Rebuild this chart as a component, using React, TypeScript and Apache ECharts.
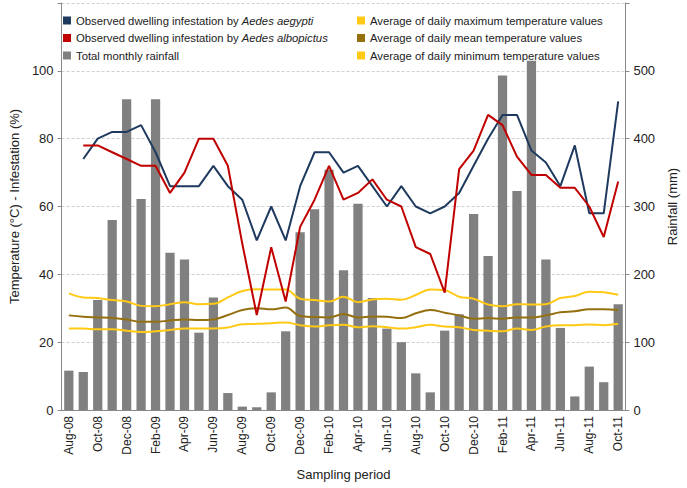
import React, { useEffect, useRef } from "react";
import * as echarts from "echarts";

const months = [
  "Aug-08", "Sep-08", "Oct-08", "Nov-08", "Dec-08",
  "Jan-09", "Feb-09", "Mar-09", "Apr-09", "May-09", "Jun-09", "Jul-09", "Aug-09", "Sep-09", "Oct-09", "Nov-09", "Dec-09",
  "Jan-10", "Feb-10", "Mar-10", "Apr-10", "May-10", "Jun-10", "Jul-10", "Aug-10", "Sep-10", "Oct-10", "Nov-10", "Dec-10",
  "Jan-11", "Feb-11", "Mar-11", "Apr-11", "May-11", "Jun-11", "Jul-11", "Aug-11", "Sep-11", "Oct-11",
];

const rainfall = [58, 56, 162, 280, 458, 311, 458, 232, 222, 114, 166, 25, 5, 4, 26, 116, 262, 296, 354, 206, 304, 165, 120, 100, 54, 26, 117, 141, 289, 227, 493, 323, 515, 222, 121, 20, 64, 41, 156];

const aegypti = [null, 74, 80, 82, 82, 84, 76, 66, 66, 66, 72, 66, 62, 50, 60, 50, 66, 76, 76, 70, 72, 66, 60, 66, 60, 58, 60, 64, 72, 80, 87, 87, 76.5, 73, 66, 78, 58, 58, 91];

const albopictus = [null, 78, 78, 76, 74, 72, 72, 64, 70, 80, 80, 72, 49, 28, 48, 32, 54, 62, 72, 62, 64, 68, 62, 60, 48, 46, 34.6, 71, 76.5, 87, 84, 74.7, 69.3, 69.3, 65.5, 65.5, 60, 51, 67.4];

const tempMax = [34.4, 33.2, 33, 32.4, 32, 30.7, 30.6, 31.2, 31.8, 31.2, 31.3, 33.2, 35.1, 35.6, 35.5, 35.5, 32.8, 32.4, 32, 33.4, 31.8, 32.6, 32.8, 32.5, 33.9, 35.5, 35.3, 33.4, 32.8, 31.1, 30.6, 31.2, 31.1, 31.2, 33, 33.6, 34.9, 34.7, 34];

const tempMean = [27.9, 27.5, 27.3, 27.1, 26.7, 26, 26, 26.4, 26.7, 26.5, 26.7, 28, 29.5, 30, 29.7, 30.2, 27.7, 27.4, 27.3, 28.3, 27.3, 27.6, 27.5, 27.1, 28.5, 29.5, 28.7, 27.9, 26.9, 27.1, 26.9, 27.3, 27.3, 27.9, 28.8, 29.1, 29.7, 29.7, 29.5];

const tempMin = [24, 24, 23.8, 23.8, 23.4, 23, 23.2, 23.6, 24, 24, 24, 24.3, 25.3, 25.4, 25.6, 25.8, 25, 24.6, 25, 25.1, 24.4, 24.7, 24.4, 24, 24.4, 25.1, 24.6, 24.4, 23.6, 23.4, 23.2, 24, 23.6, 24.6, 25, 25, 25.2, 25, 25.4];

const N_AEG = "Observed dwelling infestation by Aedes aegypti";
const N_ALB = "Observed dwelling infestation by Aedes albopictus";
const N_RAIN = "Total monthly rainfall";
const N_MAX = "Average of daily maximum temperature values";
const N_MEAN = "Average of daily mean temperature values";
const N_MIN = "Average of daily minimum temperature values";

const FONT = "Liberation Sans, Arial, sans-serif";
const C_BLUE = "#1F3A5F";
const C_RED = "#C00000";
const C_GRAY = "#808080";
const C_YEL = "#FFC915";
const C_OLIVE = "#94700F";

export default function App() {
  const ref = useRef<HTMLDivElement>(null);
  useEffect(() => {
    if (!ref.current) return;
    const chart = echarts.init(ref.current, null, { renderer: "svg" });
    const legendCommon = {
      orient: "vertical",
      top: 9,
      itemWidth: 8,
      itemHeight: 8,
      itemGap: 4.5,
      icon: "rect",
      textStyle: {
        fontFamily: FONT,
        fontSize: 11.3,
        color: "#222",
        lineHeight: 13,
        rich: { i: { fontStyle: "italic", fontFamily: FONT, fontSize: 11.3, color: "#222", lineHeight: 13 } },
      },
      formatter: (name: string) =>
        name.replace(/Aedes (aegypti|albopictus)/, (m) => "{i|" + m + "}"),
    };
    chart.setOption({
      animation: false,
      textStyle: { fontFamily: FONT },
      grid: { left: 55, right: 58, top: 3, bottom: 78, containLabel: false },
      legend: [
        { ...legendCommon, left: 58, data: [N_AEG, N_ALB, N_RAIN] },
        { ...legendCommon, left: 352, data: [N_MAX, N_MEAN, N_MIN] },
      ],
      xAxis: {
        type: "category",
        data: months,
        boundaryGap: true,
        name: "Sampling period",
        nameLocation: "middle",
        nameGap: 58,
        nameTextStyle: { fontFamily: FONT, fontSize: 13, color: "#222" },
        axisLine: { lineStyle: { color: "#888" } },
        axisTick: { interval: 0, alignWithLabel: false, length: 4, lineStyle: { color: "#888" } },
        axisLabel: {
          interval: 1,
          rotate: 90,
          fontFamily: FONT,
          fontSize: 12,
          color: "#222",
          margin: 6,
        },
      },
      yAxis: [
        {
          type: "value",
          min: 0,
          max: 120,
          interval: 20,
          name: "Temperature (°C) - Infestation (%)",
          nameLocation: "middle",
          nameGap: 39,
          nameTextStyle: { fontFamily: FONT, fontSize: 13, color: "#222" },
          axisLine: { show: true, lineStyle: { color: "#888" } },
          axisTick: { show: true, length: 4, lineStyle: { color: "#888" } },
          axisLabel: {
            fontFamily: FONT,
            fontSize: 13,
            color: "#222",
            margin: 8,
            formatter: (v: number) => (v === 120 ? "" : String(v)),
          },
          splitLine: { show: true, lineStyle: { color: "#CFCFCF", type: [3, 2] } },
        },
        {
          type: "value",
          min: 0,
          max: 600,
          interval: 100,
          position: "right",
          name: "Rainfall (mm)",
          nameLocation: "middle",
          nameGap: 40,
          nameRotate: 90,
          nameTextStyle: { fontFamily: FONT, fontSize: 13, color: "#222" },
          axisLine: { show: true, lineStyle: { color: "#888" } },
          axisTick: { show: true, length: 4, lineStyle: { color: "#888" } },
          axisLabel: {
            fontFamily: FONT,
            fontSize: 13,
            color: "#222",
            margin: 8,
            formatter: (v: number) => (v === 600 ? "" : String(v)),
          },
          splitLine: { show: false },
        },
      ],
      series: [
        {
          name: N_RAIN,
          type: "bar",
          yAxisIndex: 1,
          data: rainfall,
          barWidth: "64%",
          itemStyle: { color: C_GRAY },
          z: 1,
        },
        {
          name: N_MAX,
          type: "line",
          data: tempMax,
          smooth: 0.4,
          symbol: "none",
          lineStyle: { color: C_YEL, width: 2 },
          itemStyle: { color: C_YEL },
          z: 3,
        },
        {
          name: N_MEAN,
          type: "line",
          data: tempMean,
          smooth: 0.4,
          symbol: "none",
          lineStyle: { color: C_OLIVE, width: 2 },
          itemStyle: { color: C_OLIVE },
          z: 3,
        },
        {
          name: N_MIN,
          type: "line",
          data: tempMin,
          smooth: 0.4,
          symbol: "none",
          lineStyle: { color: C_YEL, width: 2 },
          itemStyle: { color: C_YEL },
          z: 3,
        },
        {
          name: N_AEG,
          type: "line",
          data: aegypti,
          symbol: "none",
          lineStyle: { color: C_BLUE, width: 2 },
          itemStyle: { color: C_BLUE },
          z: 4,
        },
        {
          name: N_ALB,
          type: "line",
          data: albopictus,
          symbol: "none",
          lineStyle: { color: C_RED, width: 2 },
          itemStyle: { color: C_RED },
          z: 4,
        },
      ],
    });
    return () => chart.dispose();
  }, []);
  return <div ref={ref} style={{ width: 687, height: 488, position: "absolute", left: 0, top: 0 }} />;
}
